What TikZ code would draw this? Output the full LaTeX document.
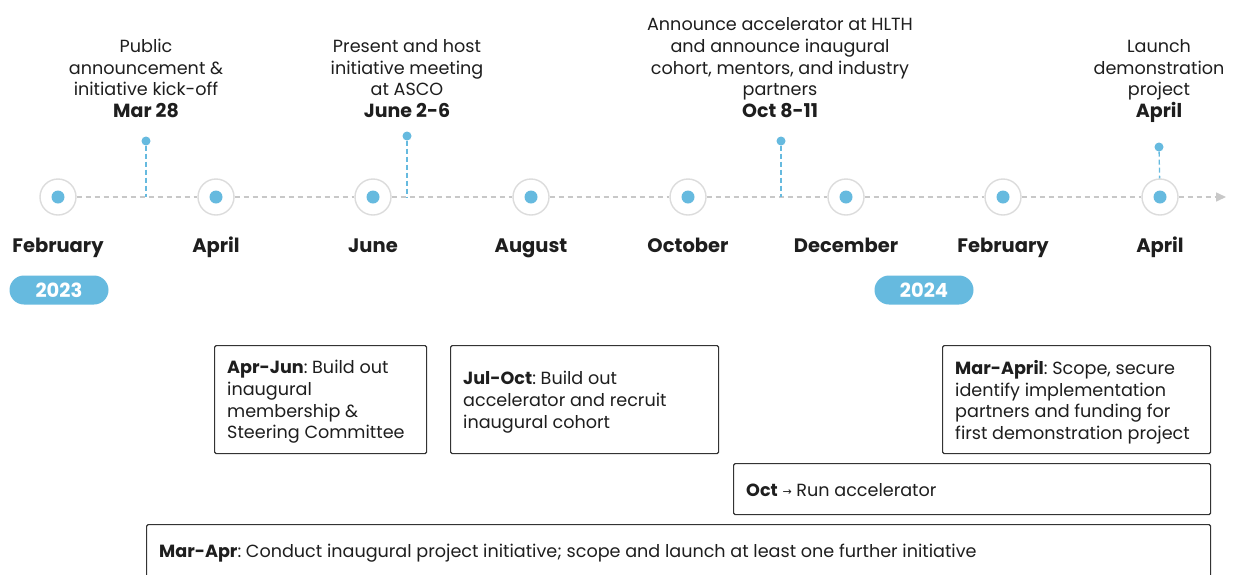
\documentclass[tikz,border=0pt]{standalone}
\usepackage{fontspec}
\setmainfont{Poppins}
\newfontfamily\symfont{DejaVu Sans}
\usetikzlibrary{arrows.meta}
\definecolor{tlblue}{HTML}{66BADF}
\definecolor{tlgray}{HTML}{C8C8C8}
\definecolor{ringgray}{HTML}{DCDCDC}
\definecolor{ink}{HTML}{1E1E1E}
\definecolor{boxline}{HTML}{333333}
\newcommand{\evbold}[1]{{\fontsize{19}{21.7}\selectfont\bfseries #1\vphantom{pg}}}
\frenchspacing
\begin{document}
\frenchspacing
\begin{tikzpicture}[x=1pt,y=-1pt,
  ring/.style={circle, draw=ringgray, line width=1.4pt, fill=white, minimum size=36pt, inner sep=0pt},
  cdot/.style={circle, fill=tlblue, minimum size=13pt, inner sep=0pt},
  pindot/.style={circle, fill=tlblue, minimum size=9pt, inner sep=0pt},
  axis/.style={draw=tlgray, line width=1.5pt, dash pattern=on 5pt off 4pt},
  pinline/.style={draw=tlblue, line width=1.3pt, dash pattern=on 5pt off 3pt},
  month/.style={font=\fontsize{19.5}{22}\selectfont\bfseries, text=ink, anchor=base, inner sep=0pt},
  pill/.style={rounded corners=14.5pt, fill=tlblue, text=white, minimum width=99pt, minimum height=29pt, inner sep=0pt, font=\fontsize{19.5}{22}\selectfont\bfseries},
  event/.style={align=center, font=\fontsize{17.6}{21.7}\selectfont\frenchspacing, text=ink, anchor=south, inner sep=0pt},
  taskbox/.style={draw=boxline, line width=1.2pt, rounded corners=1.5pt, anchor=north west, inner sep=0pt},
  tasktext/.style={anchor=west, align=left, inner sep=0pt, xshift=13pt, font=\fontsize{17.6}{21.7}\selectfont\frenchspacing, text=ink},
]
\useasboundingbox (0,0) rectangle (1234,574);
\fill[white] (0,0) rectangle (1234,574);
\clip (0,0) rectangle (1234,574);

% rings
\foreach \i/\x in {1/58,2/216,3/373,4/531,5/688,6/846,7/1003,8/1160}{
  \node[ring] (r\i) at (\x,197) {};
}
\coordinate (tipend) at (1226,197);
\draw[axis] (r1) -- (r2);
\draw[axis] (r2) -- (r3);
\draw[axis] (r3) -- (r4);
\draw[axis] (r4) -- (r5);
\draw[axis] (r5) -- (r6);
\draw[axis] (r6) -- (r7);
\draw[axis] (r7) -- (r8);
\draw[axis, -{Triangle[length=10pt,width=9pt,fill=tlgray]}] (r8) -- (tipend);
\foreach \i in {1,...,8}{ \node[cdot] (d\i) at (r\i) {}; }

% pins
\coordinate (b1) at (146,197);
\coordinate (b2) at (407,197);
\coordinate (b3) at (781,197);
\node[pindot] (p1) at (146,141) {};
\node[pindot] (p2) at (407,136) {};
\node[pindot] (p3) at (781,141) {};
\node[pindot] (p4) at (1159,147) {};
\draw[pinline] (p1) -- (b1);
\draw[pinline] (p2) -- (b2);
\draw[pinline] (p3) -- (b3);
\draw[pinline] (p4) -- (r8);

% months
\node[month] (m1) at (58,252) {February};
\node[month] (m2) at (216,252) {April};
\node[month] (m3) at (373,252) {June};
\node[month] (m4) at (531,252) {August};
\node[month] (m5) at (688,252) {October};
\node[month] (m6) at (846,252) {December};
\node[month] (m7) at (1003,252) {February};
\node[month] (m8) at (1160,252) {April};

% year pills
\node[pill] (y1) at (59,290) {2023};
\node[pill] (y2) at (924,290) {2024};

% events
\node[event] (e1) at (146,123) {Public\\announcement \&\\initiative kick-off\\\evbold{Mar 28}};
\node[event] (e2) at (407,123) {Present and host\\initiative meeting\\at ASCO\\\evbold{June 2-6}};
\node[event] (e3) at (780,123) {Announce accelerator at HLTH\\and announce inaugural\\cohort, mentors, and industry\\partners\\\evbold{Oct 8-11}};
\node[event] (e4) at (1159,123) {Launch\\demonstration\\project\\\evbold{April}};

% task boxes
\node[taskbox, minimum width=212pt, minimum height=108pt] (t1) at (214,345) {};
\node[tasktext, yshift=-2.5pt] (t1txt) at (t1.west)
  {\textbf{Apr-Jun}: Build out\\inaugural\\membership \&\\Steering Committee};
\node[taskbox, minimum width=268pt, minimum height=108pt] (t2) at (450,345) {};
\node[tasktext, yshift=-2.5pt] (t2txt) at (t2.west)
  {\textbf{Jul-Oct}: Build out\\accelerator and recruit\\inaugural cohort};
\node[taskbox, minimum width=268pt, minimum height=108pt] (t3) at (942,345) {};
\node[tasktext, yshift=-2.5pt] (t3txt) at (t3.west)
  {\textbf{Mar-April}: Scope, secure\\identify implementation\\partners and funding for\\first demonstration project};
\node[taskbox, minimum width=477pt, minimum height=51pt] (t4) at (733,463) {};
\node[tasktext, yshift=-1pt] (t4txt) at (t4.west)
  {\textbf{Oct} {\symfont\fontsize{11}{14}\selectfont\raisebox{1pt}{→}} Run accelerator};
\node[taskbox, minimum width=1064pt, minimum height=56pt] (t5) at (146,524) {};
\node[tasktext, yshift=-1pt] (t5txt) at (t5.west)
  {\textbf{Mar-Apr}: Conduct inaugural project initiative; scope and launch at least one further initiative};
\end{tikzpicture}
\end{document}
